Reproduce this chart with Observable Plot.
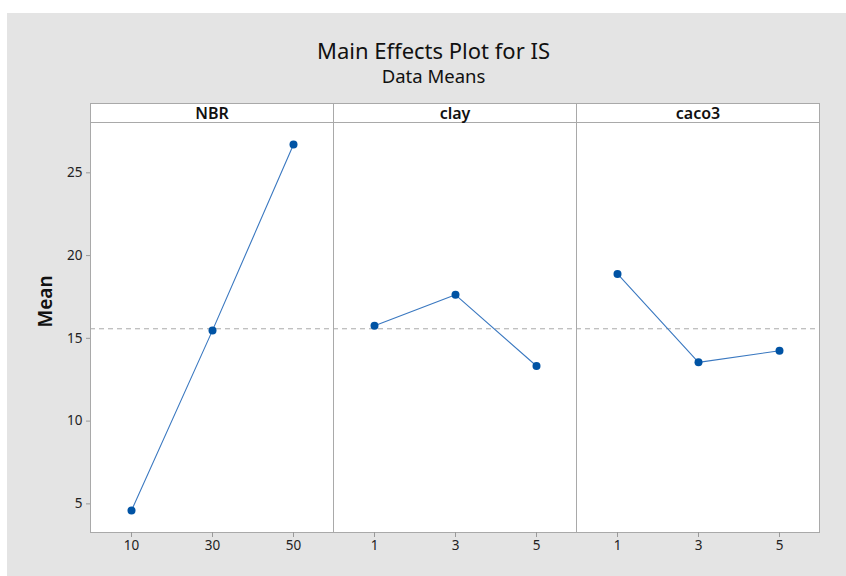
<!DOCTYPE html>
<html>
<head>
<meta charset="utf-8">
<script src="https://cdn.jsdelivr.net/npm/d3@7"></script>
<script src="https://cdn.jsdelivr.net/npm/@observablehq/plot@0.6"></script>
<style>
  html, body { margin: 0; padding: 0; background: #ffffff; }
  #figure {
    position: absolute; left: 7px; top: 13px; width: 839px; height: 563px;
    background: #e4e4e4; font-family: "Noto Sans", "Open Sans", sans-serif; color: #111;
  }
  #title, #subtitle {
    position: absolute; left: 0; width: 853px; text-align: center; white-space: nowrap;
  }
  #title { top: 23px; font-size: 22px; line-height: 28px; }
  #subtitle { top: 52px; font-size: 18.5px; line-height: 22px; }
  #chart { position: absolute; left: 0; top: 77px; }
</style>
</head>
<body>
<div id="figure">
  <div id="title">Main Effects Plot for IS</div>
  <div id="subtitle">Data Means</div>
  <div id="chart"></div>
</div>
<script>
// Factors and their levels
const factors = ["NBR", "clay", "caco3"];
const nbrLevels = ["10", "30", "50"];
const clayLevels = ["1", "3", "5"];
const caco3Levels = ["1", "3", "5"];

// Mean response of IS at each level
const nbrMeans = [4.6, 15.48, 26.71];
const clayMeans = [15.76, 17.63, 13.33];
const caco3Means = [18.89, 13.55, 14.25];

// Y-axis tick values
const yTicks = [5, 10, 15, 20, 25];

const levelsByFactor = [nbrLevels, clayLevels, caco3Levels];
const meansByFactor = [nbrMeans, clayMeans, caco3Means];

const rows = factors.flatMap((factor, f) =>
  levelsByFactor[f].map((level, i) => ({factor, level, pos: i, mean: meansByFactor[f][i]}))
);
const grandMean = d3.mean(rows, (d) => d.mean);

const gray = "#a9a9a9";

const chart = Plot.plot({
  width: 839,
  height: 486,
  marginTop: 32,
  marginBottom: 44,
  marginLeft: 83,
  marginRight: 27,
  style: {background: "transparent", fontFamily: "'Noto Sans', 'Open Sans', sans-serif", fontSize: "13.5px", color: "#222"},
  fx: {domain: factors, padding: 0, label: null},
  x: {type: "point", domain: [0, 1, 2], padding: 0.5, axis: null, label: null},
  y: {domain: [3.27, 28.04], label: null},
  marks: [
    // panel box including the header strip
    Plot.frame({fill: "white", stroke: gray, insetTop: -19}),
    Plot.frame({anchor: "top", stroke: gray}),
    // factor names in the header strips
    Plot.axisFx({anchor: "top", tickSize: 0, tickPadding: 4, label: null, fontSize: 16, fontWeight: 600, fill: "#111"}),
    Plot.axisY({ticks: yTicks, tickSize: 4, tickPadding: 4, stroke: "#999", fill: "#222", label: null}),
    Plot.axisX({ticks: [0, 1, 2], tickSize: 5, tickFormat: () => "", stroke: "#999", label: null}),
    // level labels under each panel
    Plot.text(rows, {x: "pos", fx: "factor", text: "level", frameAnchor: "bottom", lineAnchor: "top", dy: 8, fontSize: 13.5, fill: "#222"}),
    Plot.text(["Mean"], {fx: () => factors[0], frameAnchor: "left", rotate: -90, dx: -45, fontSize: 19, fontWeight: 600, fill: "#111"}),
    // grand mean reference
    Plot.ruleY([grandMean], {stroke: gray, strokeDasharray: "5,4"}),
    Plot.line(rows, {x: "pos", y: "mean", fx: "factor", stroke: "#3a78c0", strokeWidth: 1.1}),
    Plot.dot(rows, {x: "pos", y: "mean", fx: "factor", r: 4, fill: "#0053a4", stroke: null})
  ]
});

document.getElementById("chart").appendChild(chart);
</script>
</body>
</html>
